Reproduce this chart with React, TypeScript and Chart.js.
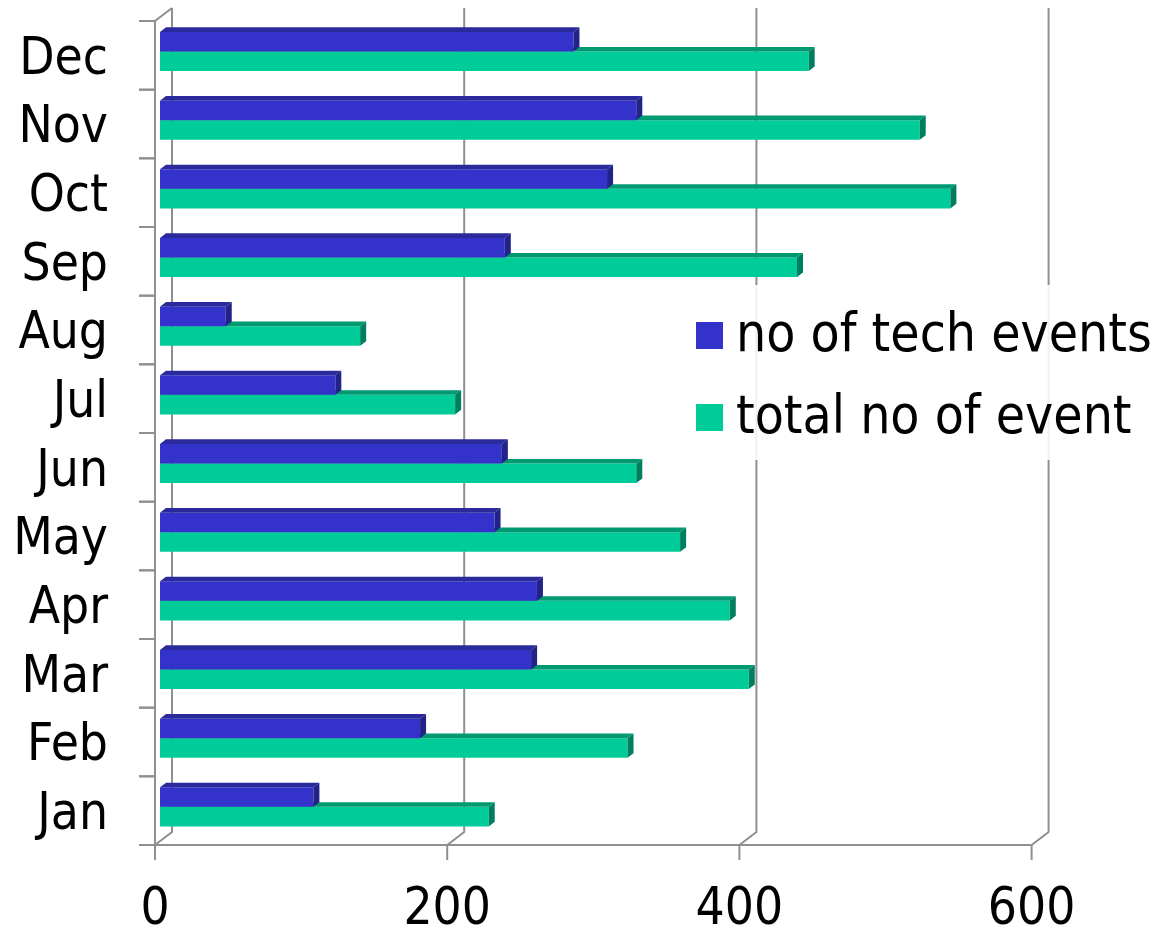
import React, { useEffect, useRef } from 'react';
import { Chart, registerables } from 'chart.js';

Chart.register(...registerables);

const months = ['Jan', 'Feb', 'Mar', 'Apr', 'May', 'Jun', 'Jul', 'Aug', 'Sep', 'Oct', 'Nov', 'Dec'];
const techEvents = [105, 178, 254, 258, 229, 234, 120, 45, 236, 306, 326, 283];
const totalEvents = [225, 320, 403, 390, 356, 326, 202, 137, 436, 541, 520, 444];
const xTickValues = [0, 200, 400, 600];
const seriesNames = ['no of tech events', 'total no of event'];

const frontColors = ['#3333CC', '#00CC99'];
const topColors = ['#2A2A9C', '#009972'];
const sideColors = ['#222288', '#007F60'];

const FONT = '"DejaVu Sans Condensed", "DejaVu Sans", sans-serif';
const FRONT_DX = -5;
const FRONT_DY = 3.8;
const BACK_DX = 12;
const BACK_DY = -9.2;
const BAR_DX = 6;
const BAR_DY = 4.6;
const GRID = '#8f8f8f';

const framePlugin = {
  id: 'frame3d',
  beforeDatasetsDraw(chart: any) {
    const ctx = chart.ctx;
    const xs = chart.scales.x;
    const ys = chart.scales.y;
    const { top, bottom } = chart.chartArea;
    ctx.save();
    ctx.strokeStyle = GRID;
    ctx.lineWidth = 2;
    const line = (pts: number[][]) => {
      ctx.beginPath();
      ctx.moveTo(pts[0][0], pts[0][1]);
      for (let i = 1; i < pts.length; i++) ctx.lineTo(pts[i][0], pts[i][1]);
      ctx.stroke();
    };
    xTickValues.forEach((v) => {
      const px = xs.getPixelForValue(v);
      const bx = px + BACK_DX;
      const fx = px + FRONT_DX;
      line([
        [bx, top + BACK_DY],
        [bx, bottom + BACK_DY],
        [fx, bottom + FRONT_DY],
      ]);
      line([
        [fx, bottom + FRONT_DY],
        [fx, bottom + FRONT_DY + 15],
      ]);
    });
    const x0 = xs.getPixelForValue(xTickValues[0]);
    const xN = xs.getPixelForValue(xTickValues[xTickValues.length - 1]);
    line([
      [x0 + FRONT_DX, bottom + FRONT_DY],
      [xN + FRONT_DX, bottom + FRONT_DY],
    ]);
    line([
      [x0 + BACK_DX, top + BACK_DY],
      [x0 + FRONT_DX, top + FRONT_DY],
      [x0 + FRONT_DX, bottom + FRONT_DY],
    ]);
    const band = Math.abs(ys.getPixelForValue(1) - ys.getPixelForValue(0));
    for (let i = 0; i < months.length; i++) {
      const c = ys.getPixelForValue(i);
      [c - band / 2, c + band / 2].forEach((yy) => {
        line([
          [x0 + FRONT_DX - 16, yy + FRONT_DY],
          [x0 + FRONT_DX, yy + FRONT_DY],
        ]);
      });
    }
    // legend backdrop (semi-opaque, as in the original)
    ctx.fillStyle = 'rgba(255,255,255,0.88)';
    ctx.fillRect(685, 285, 476, 175);
    ctx.restore();
  },
  afterDatasetDraw(chart: any, args: any) {
    const ctx = chart.ctx;
    const di = args.index;
    ctx.save();
    args.meta.data.forEach((el: any) => {
      const p = el.getProps(['x', 'y', 'base', 'height'], true);
      const t = p.y - p.height / 2;
      const b = p.y + p.height / 2;
      const l = Math.min(p.base, p.x);
      const r = Math.max(p.base, p.x);
      ctx.fillStyle = topColors[di];
      ctx.beginPath();
      ctx.moveTo(l, t);
      ctx.lineTo(r, t);
      ctx.lineTo(r + BAR_DX, t - BAR_DY);
      ctx.lineTo(l + BAR_DX, t - BAR_DY);
      ctx.closePath();
      ctx.fill();
      ctx.fillStyle = sideColors[di];
      ctx.beginPath();
      ctx.moveTo(r, t);
      ctx.lineTo(r + BAR_DX, t - BAR_DY);
      ctx.lineTo(r + BAR_DX, b - BAR_DY);
      ctx.lineTo(r, b);
      ctx.closePath();
      ctx.fill();
    });
    ctx.restore();
  },
};

export default function App() {
  const canvasRef = useRef<HTMLCanvasElement | null>(null);

  useEffect(() => {
    if (!canvasRef.current) return;
    const chart = new Chart(canvasRef.current, {
      type: 'bar',
      data: {
        labels: months,
        datasets: [
          {
            label: seriesNames[0],
            data: techEvents,
            backgroundColor: frontColors[0],
            borderWidth: 0,
            barPercentage: 1,
            categoryPercentage: 0.57,
          },
          {
            label: seriesNames[1],
            data: totalEvents,
            backgroundColor: frontColors[1],
            borderWidth: 0,
            barPercentage: 1,
            categoryPercentage: 0.57,
          },
        ],
      },
      options: {
        indexAxis: 'y',
        animation: false,
        responsive: true,
        maintainAspectRatio: false,
        layout: { padding: { top: 17.2, right: 124.4, left: 0, bottom: 0 } },
        plugins: { legend: { display: false }, tooltip: { enabled: false } },
        scales: {
          x: {
            type: 'linear',
            min: 0,
            max: 600,
            grid: { display: false, drawTicks: false },
            border: { display: false },
            afterFit: (s: any) => {
              s.height = 87.8;
              s.paddingLeft = 0;
              s.paddingRight = 0;
            },
            afterBuildTicks: (s: any) => {
              s.ticks = xTickValues.map((v) => ({ value: v }));
            },
            ticks: {
              color: '#000',
              padding: 44,
              labelOffset: FRONT_DX,
              maxRotation: 0,
              font: { family: FONT, size: 51, lineHeight: 1 },
            },
          },
          y: {
            type: 'category',
            reverse: true,
            grid: { display: false, drawTicks: false },
            border: { display: false },
            afterFit: (s: any) => {
              s.width = 160;
              s.paddingTop = 0;
              s.paddingBottom = 0;
            },
            ticks: {
              color: '#000',
              padding: 52,
              labelOffset: 9,
              autoSkip: false,
              font: { family: FONT, size: 51, lineHeight: 0.5 },
            },
          },
        },
      },
      plugins: [framePlugin],
    });
    return () => chart.destroy();
  }, []);

  return (
    <div style={{ position: 'absolute', left: 0, top: 0, width: 1161, height: 929, background: '#fff' }}>
      <canvas ref={canvasRef} />
      {seriesNames.map((n, i) => (
        <div
          key={'sw' + i}
          style={{
            position: 'absolute',
            left: 696,
            top: 322 + i * 82,
            width: 27,
            height: 27,
            background: frontColors[i],
          }}
        />
      ))}
      {seriesNames.map((n, i) => (
        <div
          key={'tx' + i}
          style={{
            position: 'absolute',
            left: 736,
            top: 308 + i * 82,
            fontFamily: FONT,
            fontSize: 53,
            lineHeight: '50px',
            whiteSpace: 'nowrap',
            color: '#000',
          }}
        >
          {n}
        </div>
      ))}
    </div>
  );
}
